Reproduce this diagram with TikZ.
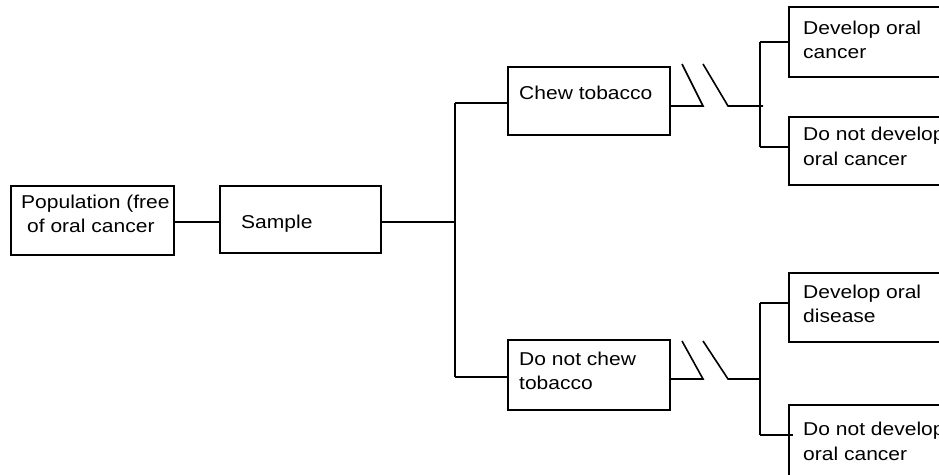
\documentclass[tikz,border=0pt]{standalone}
\usepackage{fontspec}
\setmainfont{Liberation Sans}[FakeStretch=1.13]
\begin{document}
\begin{tikzpicture}[x=1pt,y=-1pt,
  box/.style={draw,line width=1.6pt,rectangle,inner sep=0pt,anchor=north west},
  lbl/.style={anchor=base west,inner sep=0pt,font=\fontsize{18.6}{23}\selectfont},
  wire/.style={line width=1.6pt}]
\useasboundingbox (0,0) rectangle (939,474);
\fill[white] (0,0) rectangle (939,474);
\clip (0,0) rectangle (939,474);

% boxes
\node[box,minimum width=163pt,minimum height=69pt] (pop) at (10,185) {};
\node[box,minimum width=161pt,minimum height=67pt] (sample) at (219,185) {};
\node[box,minimum width=162pt,minimum height=68pt] (chew) at (507,66) {};
\node[box,minimum width=162pt,minimum height=70pt] (nochew) at (507,339) {};
\node[box,minimum width=200pt,minimum height=70pt] (dev1) at (788,6) {};
\node[box,minimum width=200pt,minimum height=68pt] (nodev1) at (788,116) {};
\node[box,minimum width=200pt,minimum height=69pt] (dev2) at (788,272) {};
\node[box,minimum width=200pt,minimum height=100pt] (nodev2) at (788,404) {};

% labels
\node[lbl] (t1) at (21,208) {Population (free};
\node[lbl] (t2) at (27,232) {of oral cancer};
\node[lbl] (t3) at (241,228) {Sample};
\node[lbl] (t4) at (519,99) {Chew tobacco};
\node[lbl] (t5) at (519,365) {Do not chew};
\node[lbl] (t6) at (519,389) {tobacco};
\node[lbl] (t7) at (803,34) {Develop oral};
\node[lbl] (t8) at (803,58) {cancer};
\node[lbl] (t9) at (803,140) {Do not develop};
\node[lbl] (t10) at (803,165) {oral cancer};
\node[lbl] (t11) at (803,298) {Develop oral};
\node[lbl] (t12) at (803,322) {disease};
\node[lbl] (t13) at (803,435) {Do not develop};
\node[lbl] (t14) at (803,460) {oral cancer};

% junction points
\coordinate (mid) at (0,222);
\coordinate (split) at (455,222);
\coordinate (up) at (455,103);
\coordinate (dn) at (455,377);
\coordinate (ka) at (703,106);
\coordinate (kb) at (682,64);
\coordinate (kc) at (703,64);
\coordinate (kd) at (728,106);
\coordinate (ra) at (760,106);
\coordinate (rt) at (760,42);
\coordinate (rb) at (760,147);
\coordinate (la) at (703,379);
\coordinate (lb) at (682,341);
\coordinate (lc) at (703,341);
\coordinate (ld) at (728,379);
\coordinate (sa) at (760,379);
\coordinate (st) at (760,303);
\coordinate (sb) at (760,435);
\coordinate (se) at (793,435);

% connectors
\draw[wire] (pop.east |- mid) -- (sample.west |- mid);
\draw[wire] (sample.east |- mid) -- (split);
\draw[wire] (up) -- (dn);
\draw[wire] (up) -- (chew.west |- up);
\draw[wire] (dn) -- (nochew.west |- dn);

% upper branch with break mark
\draw[wire] (chew.east |- ka) -- (ka) -- (kb);
\draw[wire] (kc) -- (kd) -- ([xshift=3pt]ra);
\draw[wire] (rt) -- (rb);
\draw[wire] (rt) -- (dev1.west |- rt);
\draw[wire] (rb) -- (nodev1.west |- rb);

% lower branch with break mark
\draw[wire] (nochew.east |- la) -- (la) -- (lb);
\draw[wire] (lc) -- (ld) -- (sa);
\draw[wire] (st) -- (sb);
\draw[wire] (st) -- (dev2.west |- st);
\draw[wire] (sb) -- (se);
\end{tikzpicture}
\end{document}
